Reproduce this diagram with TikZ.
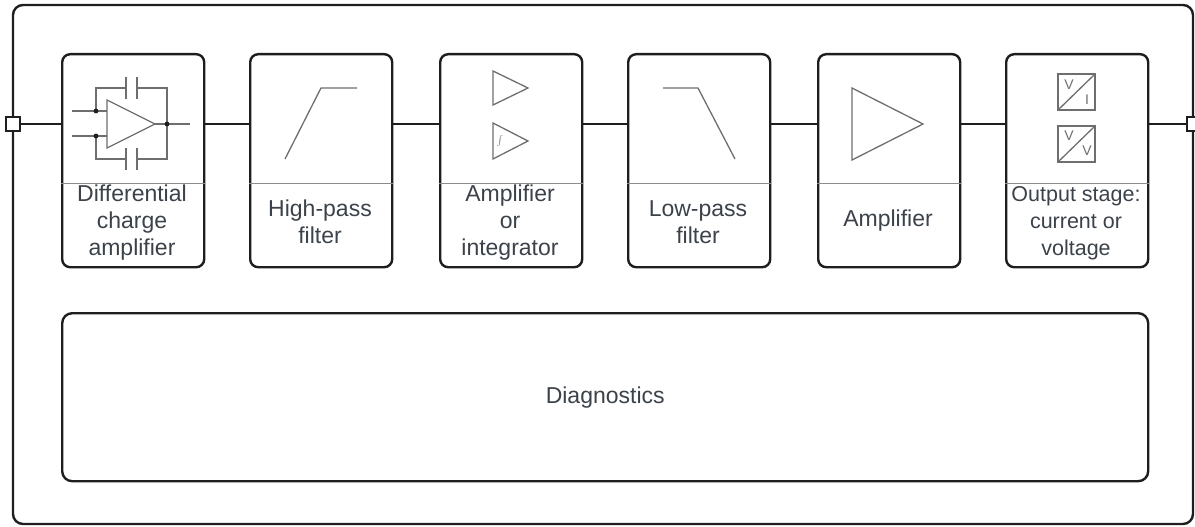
\documentclass[tikz,border=0pt]{standalone}
\usepackage{fontspec}
\setmainfont{Liberation Sans}
\definecolor{frm}{RGB}{30,30,30}
\definecolor{txt}{RGB}{60,66,74}
\definecolor{ico}{RGB}{110,110,110}
\definecolor{dvd}{RGB}{140,140,140}
\tikzset{
  blk/.style={draw=frm, line width=2.4pt, rounded corners=8pt, anchor=north west,
    minimum width=142pt, minimum height=213pt, inner sep=0pt},
  sig/.style={draw=frm, line width=2.4pt},
  port/.style={draw=frm, fill=white, line width=1.8pt, minimum size=14pt, inner sep=0pt},
  div/.style={draw=dvd, line width=1pt},
  icon/.style={draw=ico, line width=1.3pt, line join=miter},
  lbl/.style={text=txt, align=center, font=\fontsize{23}{27}\selectfont, inner sep=0pt},
  lbls/.style={text=txt, align=center, font=\fontsize{21.5}{27}\selectfont, inner sep=0pt},
  sm/.style={text=ico, font=\fontsize{14}{14}\selectfont, inner sep=0pt},
}
\begin{document}
\begin{tikzpicture}[x=1pt, y=-1pt]
\useasboundingbox (0,0) rectangle (1195,527);
% outer frame
\draw[frm, line width=2.4pt, rounded corners=10pt] (13,5) rectangle (1193,524);
% blocks
\node[blk] (b1) at (61,53) {};
\node[blk] (b2) at (249,53) {};
\node[blk] (b3) at (439,53) {};
\node[blk] (b4) at (627,53) {};
\node[blk] (b5) at (817,53) {};
\node[blk] (b6) at (1005,53) {};
% ports
\node[port] (pL) at (13,124) {};
\node[port] (pR) at (1194,124) {};
% signal line
\draw[sig] (pL.east) -- (b1.west |- pL);
\draw[sig] (b1.east |- pL) -- (b2.west |- pL);
\draw[sig] (b2.east |- pL) -- (b3.west |- pL);
\draw[sig] (b3.east |- pL) -- (b4.west |- pL);
\draw[sig] (b4.east |- pL) -- (b5.west |- pL);
\draw[sig] (b5.east |- pL) -- (b6.west |- pL);
\draw[sig] (b6.east |- pL) -- (pR.west);
% dividers
\coordinate (dv) at (0,183);
\foreach \b in {b1,b2,b3,b4,b5,b6}{
  \draw[div] (\b.west |- dv) -- (\b.east |- dv);
}
% labels
\node[lbl] (t1) at (132,223) {Differential\\charge\\amplifier};
\node[lbl] (t2) at (320,222) {High-pass\\filter};
\node[lbl] (t3) at (510,223) {Amplifier\\or\\integrator};
\node[lbl] (t4) at (698,222) {Low-pass\\filter};
\node[lbl] (t5) at (888,221) {Amplifier};
\node[lbls] (t6) at (1076,223) {Output stage:\\current or\\voltage};
% diagnostics
\node[blk, rounded corners=10pt, minimum width=1086pt, minimum height=168pt] (dg) at (61,312) {};
\node[lbl] (tdg) at (dg.center) {Diagnostics};
% icon 1: differential charge amplifier
\draw[icon] (72,111) -- (107,111);
\draw[icon] (72,136) -- (107,136);
\draw[icon] (107,100) -- (155,124) -- (107,148) -- cycle;
\draw[icon] (155,124) -- (190,124);
\draw[icon] (96,111) -- (96,88) -- (126,88);
\draw[icon] (137,88) -- (167,88) -- (167,124);
\draw[icon] (126,77) -- (126,99);
\draw[icon] (137,77) -- (137,99);
\draw[icon] (96,136) -- (96,159) -- (126,159);
\draw[icon] (137,159) -- (167,159) -- (167,124);
\draw[icon] (126,148) -- (126,170);
\draw[icon] (137,148) -- (137,170);
\fill[frm] (96,111) circle (2.4pt) (96,136) circle (2.4pt) (167,124) circle (2.4pt);
% icon 2: high-pass
\draw[icon] (285,159) -- (321,88) -- (357,88);
% icon 3: amplifier / integrator
\draw[icon] (493,71) -- (528,88) -- (493,105) -- cycle;
\draw[icon] (493,123) -- (528,141) -- (493,159) -- cycle;
\node[text=ico, font=\fontsize{12.5}{12.5}\selectfont, inner sep=0pt] (intg) at (500,141) {$\int$};
% icon 4: low-pass
\draw[icon] (663,88) -- (698,88) -- (735,159);
% icon 5: amplifier
\draw[icon] (852,88) -- (923,124) -- (852,160) -- cycle;
% icon 6: converters
\draw[icon] (1058,74) rectangle (1095,110);
\draw[icon] (1058,110) -- (1095,74);
\node[sm] (v1) at (1069,85) {V};
\node[sm] (i1) at (1087,100) {I};
\draw[icon] (1058,126) rectangle (1095,162);
\draw[icon] (1058,162) -- (1095,126);
\node[sm] (v2) at (1069,136) {V};
\node[sm] (v3) at (1087,151) {V};
\end{tikzpicture}
\end{document}
